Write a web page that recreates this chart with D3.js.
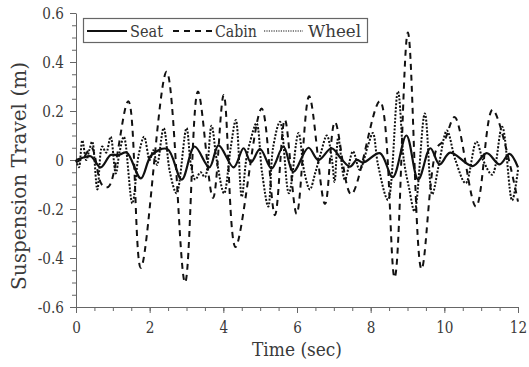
<!DOCTYPE html>
<html>
<head>
<meta charset="utf-8">
<script src="https://cdn.jsdelivr.net/npm/d3@7"></script>
<style>
  body { margin: 0; background: #fff; }
  svg text { font-family: "DejaVu Serif", serif; fill: #3a3a3a; }
</style>
</head>
<body>
<svg id="chart" width="529" height="367"></svg>
<script>
// time (sec), travel (m)
const seatData = [
  [0, 0], [0.2, 0.01], [0.4, 0.015], [0.67, -0.03], [0.94, 0.02], [1.15, 0.02],
  [1.38, 0.03], [1.76, -0.075], [2.05, 0.02], [2.48, 0.045], [2.87, -0.08],
  [3.22, 0.055], [3.62, -0.03], [3.87, 0.06], [4.28, -0.03], [4.55, 0.048],
  [4.75, -0.01], [5.0, 0.045], [5.31, -0.035], [5.63, 0.055], [5.9, -0.048],
  [6.31, 0.05], [6.58, 0.0], [6.94, 0.048], [7.2, 0.005], [7.44, -0.027],
  [7.62, 0.0], [7.8, -0.01], [8.25, 0.028], [8.6, -0.07], [8.97, 0.1],
  [9.29, -0.08], [9.62, 0.048], [9.87, -0.018], [10.16, 0.03], [10.77, -0.025],
  [11.15, 0.028], [11.5, -0.018], [11.77, 0.025], [12, -0.03]
]
const cabinData = [
  [0, -0.01], [0.2, 0.01], [0.42, 0.05], [0.7, -0.1], [0.88, -0.11], [1.42, 0.24],
  [1.76, -0.44], [2.46, 0.36], [2.96, -0.5], [3.31, 0.28], [3.72, -0.155],
  [4.01, 0.265], [4.33, -0.355], [5.04, 0.21], [5.4, -0.225], [5.67, 0.165],
  [5.99, -0.22], [6.33, 0.26], [6.76, -0.18], [7.03, 0.155], [7.47, -0.14],
  [8.25, 0.24], [8.65, -0.48], [9.01, 0.52], [9.38, -0.445], [9.8, 0.05],
  [10.0, 0.08], [10.28, 0.175], [10.86, -0.19], [11.31, 0.205], [12, -0.17]
]
const wheelData = [
  [0, 0], [0.08, -0.03], [0.17, 0.08], [0.28, 0.0], [0.36, 0.04], [0.44, 0.075],
  [0.58, -0.12], [0.71, 0.055], [0.82, 0.03], [0.94, 0.095], [1.08, -0.055],
  [1.18, 0.03], [1.3, 0.095], [1.53, -0.177], [1.7, 0.02], [1.85, 0.095],
  [2.0, 0.0], [2.1, 0.04], [2.2, -0.02], [2.38, 0.13], [2.55, -0.05], [2.73, -0.136],
  [3.0, 0.13], [3.12, -0.02], [3.24, -0.08], [3.38, -0.05], [3.5, -0.07],
  [3.68, 0.14], [3.82, 0.0], [4.02, -0.136], [4.2, 0.05], [4.34, 0.163],
  [4.5, -0.15], [4.62, 0.0], [4.72, 0.07], [4.9, 0.15], [5.05, -0.05], [5.22, -0.19],
  [5.35, 0.05], [5.54, 0.156], [5.78, -0.136], [6.04, 0.11], [6.2, -0.05],
  [6.35, -0.12], [6.5, -0.05], [6.65, 0.03], [6.81, 0.1], [6.95, 0.0], [7.02, -0.09],
  [7.12, 0.09], [7.3, -0.08], [7.52, 0.035], [7.7, -0.04], [7.93, 0.06], [8.06, 0.11],
  [8.2, -0.02], [8.47, -0.163], [8.74, 0.28], [8.9, 0.0], [9.05, -0.12], [9.19, -0.21],
  [9.47, 0.19], [9.67, -0.14], [9.85, -0.02], [10.07, 0.12], [10.3, 0.0],
  [10.58, -0.095], [10.87, 0.075], [11.05, 0.0], [11.3, -0.06], [11.57, 0.136],
  [11.84, -0.165], [12, -0.04]
]
const xTicks = [0, 2, 4, 6, 8, 10, 12]
const yTicks = [-0.6, -0.4, -0.2, 0, 0.2, 0.4, 0.6]
const legendNames = ['Seat', 'Cabin', 'Wheel']

const svg = d3.select('#chart')
const margin = {left: 76, right: 11, top: 13, bottom: 60}
const W = 529, H = 367

const x = d3.scaleLinear().domain([0, 12]).range([margin.left, W - margin.right])
const y = d3.scaleLinear().domain([-0.6, 0.6]).range([H - margin.bottom, margin.top])

const axisColor = '#666'
const squeeze = 0.85   // DejaVu Serif is wider than the Times face in the figure

// narrow a text node horizontally, keeping its anchor
function narrow(sel, len) {
    sel.each(function () {
        let w = len || this.getComputedTextLength() * squeeze
        d3.select(this).attr('textLength', w).attr('lengthAdjust', 'spacingAndGlyphs')
    })
}

// minor ticks
svg.append('g')
    .attr('transform', `translate(0,${H - margin.bottom})`)
    .call(d3.axisBottom(x).tickValues(d3.range(0, 12.01, 0.5)).tickSize(4).tickFormat(''))
    .call(g => g.select('.domain').remove())
    .selectAll('line').attr('stroke', axisColor)
svg.append('g')
    .attr('transform', `translate(${margin.left},0)`)
    .call(d3.axisLeft(y).tickValues(d3.range(-0.6, 0.601, 0.05)).tickSize(4).tickFormat(''))
    .call(g => g.select('.domain').remove())
    .selectAll('line').attr('stroke', axisColor)

// major axes
let xAxis = svg.append('g')
    .attr('transform', `translate(0,${H - margin.bottom})`)
    .call(d3.axisBottom(x).tickValues(xTicks).tickSize(6).tickPadding(9).tickSizeOuter(0))
let yAxis = svg.append('g')
    .attr('transform', `translate(${margin.left},0)`)
    .call(d3.axisLeft(y).tickValues(yTicks).tickSize(6).tickPadding(6).tickSizeOuter(0)
        .tickFormat(d => Math.abs(d) < 1e-9 ? '0' : d3.format('.1f')(d).replace('−', '-')))
;[xAxis, yAxis].forEach(g => {
    g.attr('font-family', null)
    g.selectAll('.domain, line').attr('stroke', axisColor)
    g.selectAll('text').attr('font-size', 16).attr('fill', '#3a3a3a').call(narrow)
})

// axis titles
svg.append('text')
    .attr('x', (x(0) + x(12)) / 2)
    .attr('y', 356)
    .attr('text-anchor', 'middle')
    .attr('font-size', 19)
    .text('Time (sec)')
    .call(narrow, 90)
svg.append('text')
    .attr('transform', `translate(26,176) rotate(-90)`)
    .attr('text-anchor', 'middle')
    .attr('font-size', 20)
    .text('Suspension Travel (m)')
    .call(narrow, 228)

// series
const line = d3.line()
    .x(d => x(d[0]))
    .y(d => y(d[1]))
    .curve(d3.curveCatmullRom.alpha(0.5))

const styles = {
    Seat: {data: seatData, dash: null, width: 2.2},
    Cabin: {data: cabinData, dash: '6,5', width: 2},
    Wheel: {data: wheelData, dash: '2,1.6', width: 2}
}

;['Wheel', 'Cabin', 'Seat'].forEach(k => {
    svg.append('path')
        .datum(styles[k].data)
        .attr('fill', 'none')
        .attr('stroke', '#111')
        .attr('stroke-width', styles[k].width)
        .attr('stroke-dasharray', styles[k].dash)
        .attr('d', line)
})

// legend
let legend = svg.append('g')
legend.append('rect')
    .attr('x', 83.5).attr('y', 18.5)
    .attr('width', 284).attr('height', 24)
    .attr('fill', '#fff')
    .attr('stroke', axisColor)
    .attr('stroke-width', 1.2)

const legendPos = [{x1: 87, x2: 127, tx: 130, w: 33}, {x1: 173, x2: 213, tx: 215, w: 42}, {x1: 264, x2: 303, tx: 308, w: 53}]
legendNames.forEach((name, i) => {
    let p = legendPos[i]
    legend.append('line')
        .attr('x1', p.x1).attr('x2', p.x2)
        .attr('y1', 31).attr('y2', 31)
        .attr('stroke', '#111')
        .attr('stroke-width', name === 'Wheel' ? 1.2 : 2)
        .attr('stroke-dasharray', name === 'Seat' ? null : (name === 'Cabin' ? '6,5' : '1.2,1.2'))
    legend.append('text')
        .attr('x', p.tx).attr('y', 37)
        .attr('font-size', 17)
        .text(name)
        .call(narrow, p.w)
})
</script>
</body>
</html>
